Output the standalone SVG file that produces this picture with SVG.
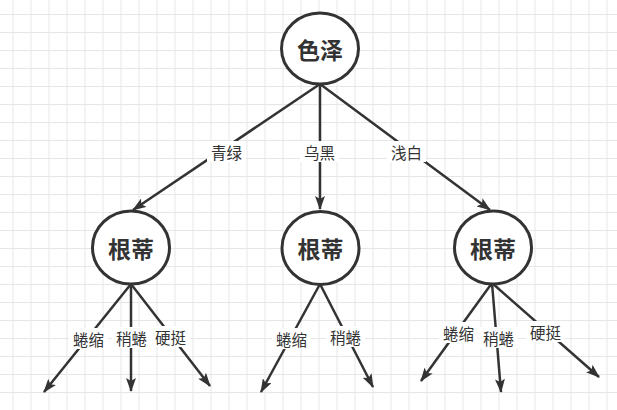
<svg xmlns="http://www.w3.org/2000/svg" width="617" height="410" viewBox="0 0 617 410">
<defs>
<pattern id="grid" x="12.5" y="14" width="18" height="18" patternUnits="userSpaceOnUse">
<path d="M0.5,0 V18 M0,0.5 H18" stroke="#e6e6e6" stroke-width="1" fill="none"/>
</pattern>
<marker id="arr" viewBox="0 0 14 10" refX="13" refY="5" markerWidth="14" markerHeight="10" markerUnits="userSpaceOnUse" orient="auto">
<path d="M0,0 L14,5 L0,10 L3,5 Z" fill="#333"/>
</marker>
<style>
.node ellipse{fill:#fff;stroke:#333;stroke-width:3}
.node text{font-family:"Noto Sans CJK SC","Liberation Sans",sans-serif;font-weight:bold;font-size:23px;fill:#333;text-anchor:middle;dominant-baseline:central}
.edge{stroke:#333;stroke-width:2.5;fill:none;marker-end:url(#arr)}
.lbl rect{fill:#fff}
.lbl text{font-family:"Noto Sans CJK SC","Liberation Sans",sans-serif;font-size:15.5px;fill:#333;text-anchor:middle;dominant-baseline:central}
</style>
</defs>
<rect width="617" height="410" fill="#fff"/>
<rect width="617" height="410" fill="url(#grid)"/>
<g id="connectors">
<path class="edge" d="M320,84 L133,210"/>
<path class="edge" d="M320,84 L320,209"/>
<path class="edge" d="M320,84 L490,210"/>
<path class="edge" d="M131,284 L44,392"/>
<path class="edge" d="M131,284 L131,391"/>
<path class="edge" d="M131,284 L210,386"/>
<path class="edge" d="M320,284 L261,392"/>
<path class="edge" d="M320,284 L373,387"/>
<path class="edge" d="M492,283 L421,381"/>
<path class="edge" d="M492,283 L501,392"/>
<path class="edge" d="M492,283 L599,377"/>
<g class="lbl">
<rect x="207" y="141" width="39" height="21"/><text x="226.5" y="151.5">青绿</text>
<rect x="300" y="141" width="39" height="21"/><text x="319.5" y="151.5">乌黑</text>
<rect x="387" y="141" width="39" height="21"/><text x="406.5" y="151.5">浅白</text>
<rect x="69" y="328" width="39" height="21"/><text x="88.5" y="338.5">蜷缩</text>
<rect x="112" y="327" width="39" height="21"/><text x="131.5" y="337.5">稍蜷</text>
<rect x="151" y="326" width="39" height="21"/><text x="170.5" y="336.5">硬挺</text>
<rect x="272" y="328" width="39" height="21"/><text x="291.5" y="338.5">蜷缩</text>
<rect x="326" y="326" width="39" height="21"/><text x="345.5" y="336.5">稍蜷</text>
<rect x="439" y="322" width="39" height="21"/><text x="458.5" y="332.5">蜷缩</text>
<rect x="479" y="327" width="39" height="21"/><text x="498.5" y="337.5">稍蜷</text>
<rect x="526" y="321" width="39" height="21"/><text x="545.5" y="331.5">硬挺</text>
</g>
</g>
<g id="n_top" class="node"><ellipse cx="320" cy="48.5" rx="38.5" ry="35.5"/><text x="320" y="48.5">色泽</text></g>
<g id="n_left" class="node"><ellipse cx="131" cy="247.5" rx="38.5" ry="36.5"/><text x="131" y="247.5">根蒂</text></g>
<g id="n_mid" class="node"><ellipse cx="320.5" cy="248" rx="38.5" ry="36.5"/><text x="320.5" y="248">根蒂</text></g>
<g id="n_right" class="node"><ellipse cx="493" cy="247.5" rx="38.5" ry="36.5"/><text x="493" y="247.5">根蒂</text></g>
</svg>
